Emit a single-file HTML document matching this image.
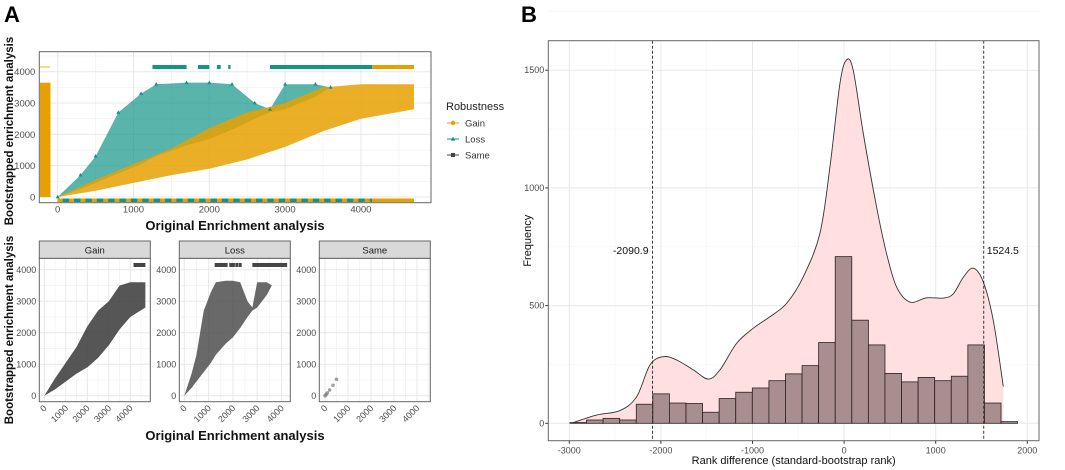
<!DOCTYPE html>
<html><head><meta charset="utf-8"><style>
html,body{margin:0;padding:0;background:#fff;}
svg{display:block;font-family:"Liberation Sans",Arial,sans-serif;}
</style></head><body>
<svg id="fig" width="1065" height="470" viewBox="0 0 1065 470" xmlns="http://www.w3.org/2000/svg"></svg>
<script>
// ---------- Panel B data ----------
const binStart = -2993;
const binWidth = 181;
const binCounts = [3,14,21,14,81,125,86,84,47,105,132,150,181,210,245,343,708,438,333,212,176,195,181,200,333,86,7];
const densX = [-2956,-2702,-2447,-2265,-2119,-1974,-1828,-1646,-1483,-1355,-1173,-991,-809,-627,-445,-264,-154,-45,28,100,210,355,464,574,719,901,1083,1192,1301,1411,1520,1629,1738];
const densY = [3,35,54,113,248,283,269,227,188,227,340,404,453,510,623,807,1091,1445,1544,1499,1230,918,720,578,515,533,532,550,620,659,600,436,156];
const vlines = [-2090.9, 1524.5];
const bXTicks = [-3000,-2000,-1000,0,1000,2000];
const bYTicks = [0,500,1000,1500];
// ---------- Panel A data ----------
const gainX = [0,500,1000,1500,2000,2500,3000,3500,4000,4700];
const gainLow = [0,200,450,700,900,1200,1600,2100,2500,2800];
const gainHigh = [0,550,1050,1550,2200,2700,3000,3500,3600,3600];
const lossX = [0,300,500,800,1100,1300,1700,2000,2300,2600,2800,3000,3400,3600];
const lossHigh = [0,700,1300,2700,3300,3600,3650,3650,3600,3000,2800,3600,3600,3500];
const lossLow = [0,250,450,750,1050,1300,1650,1850,2150,2500,2700,2800,3200,3500];
const lossTop = [[1250,1700],[1850,2000],[2100,2150],[2250,2280],[2800,4150]];
const gainTop = [[4150,4700]];
const sameX = [0,50,100,200,350,500];
const sameY = [0,40,90,180,330,520];
const aTicks = [0,1000,2000,3000,4000];

const NS="http://www.w3.org/2000/svg";
const svg=document.getElementById('fig');
function el(tag,attrs,parent){const e=document.createElementNS(NS,tag);for(const k in attrs)e.setAttribute(k,attrs[k]);(parent||svg).appendChild(e);return e;}
function txt(s,attrs,parent){const e=el('text',attrs,parent);e.textContent=s;return e;}

let t=txt('A',{x:4,y:22,'font-size':22,'font-weight':'bold'});

t=txt('B',{x:521,y:22,'font-size':22,'font-weight':'bold'});


// ================= Panel B =================
const B={l:548.3,t:40.7,r:1039,b:440.7};
const bx=v=>844.1+v*0.0916;
const by=v=>423.3-v*(117.7/500);
const gB=el('g',{});

for(let v=-2500;v<=2000;v+=1000){el('line',{x1:bx(v),x2:bx(v),y1:B.t,y2:B.b,stroke:'#f4f4f4','stroke-width':0.7},gB);}
for(let v=250;v<=1750;v+=500){el('line',{x1:B.l,x2:B.r,y1:by(v),y2:by(v),stroke:'#f4f4f4','stroke-width':0.7},gB);}
bXTicks.forEach(v=>{el('line',{x1:bx(v),x2:bx(v),y1:B.t,y2:B.b,stroke:'#e8e8e8','stroke-width':1},gB);
  const l=txt(String(v),{x:bx(v),y:B.b+13,'font-size':9,fill:'#4d4d4d','text-anchor':'middle'},gB);
  
  el('line',{x1:bx(v),x2:bx(v),y1:B.b,y2:B.b+3,stroke:'#333'},gB);});
bYTicks.forEach(v=>{el('line',{x1:B.l,x2:B.r,y1:by(v),y2:by(v),stroke:'#e8e8e8','stroke-width':1},gB);
  const l=txt(String(v),{x:B.l-4,y:by(v)+3,'font-size':9,fill:'#4d4d4d','text-anchor':'end'},gB);
  
  el('line',{x1:B.l-3,x2:B.l,y1:by(v),y2:by(v),stroke:'#333'},gB);});
function smooth(pts){let d=`M${pts[0][0]},${pts[0][1]}`;for(let i=0;i<pts.length-1;i++){const p0=pts[i-1]||pts[i],p1=pts[i],p2=pts[i+1],p3=pts[i+2]||p2;
 const c1=[p1[0]+(p2[0]-p0[0])/6,p1[1]+(p2[1]-p0[1])/6],c2=[p2[0]-(p3[0]-p1[0])/6,p2[1]-(p3[1]-p1[1])/6];
 d+=` C${c1[0]},${c1[1]} ${c2[0]},${c2[1]} ${p2[0]},${p2[1]}`;}return d;}
const dpts=densX.map((x,i)=>[bx(x),by(densY[i])]);
const dline=smooth(dpts);
let p=el('path',{d:dline+` L${bx(densX[densX.length-1])},${by(0)} L${bx(densX[0])},${by(0)} Z`,fill:'#ffdfdf',stroke:'none'},gB);

binCounts.forEach((c,i)=>{const x0=bx(binStart+i*binWidth),x1=bx(binStart+(i+1)*binWidth);
 const r=el('rect',{x:x0,y:by(c),width:x1-x0,height:by(0)-by(c),fill:'#a88e8e',stroke:'#2b2020','stroke-width':0.8},gB);
 });
p=el('path',{d:dline+` L${bx(densX[densX.length-1])},${by(densY[densY.length-1])}`,fill:'none',stroke:'#333','stroke-width':0.9},gB);

vlines.forEach((v,i)=>{const ln=el('line',{x1:bx(v),x2:bx(v),y1:B.t,y2:B.b,stroke:'#222','stroke-width':0.9,'stroke-dasharray':'3,2'},gB);
 
 const l=txt(String(v),{x:i===0?bx(v)-4:bx(v)+3,y:254,'font-size':10.5,fill:'#111','text-anchor':i===0?'end':'start'},gB);
 });
el('rect',{x:B.l,y:B.t,width:B.r-B.l,height:B.b-B.t,fill:'none',stroke:'#666','stroke-width':1},gB);
t=txt('Rank difference (standard-bootstrap rank)',{x:(B.l+B.r)/2,y:464,'font-size':11,fill:'#111','text-anchor':'middle'},gB);

t=txt('Frequency',{x:0,y:0,'font-size':11,fill:'#111','text-anchor':'middle',transform:`translate(531,${(B.t+B.b)/2}) rotate(-90)`},gB);


// ================= Panel A top =================
const A={l:39.3,t:51.7,r:431,b:202.7};
const ax=v=>57.7+v*0.0758;
const ay=v=>197-v*(125.3/4000);
const gA=el('g',{});

for(let v=500;v<=4500;v+=1000){el('line',{x1:ax(v),x2:ax(v),y1:A.t,y2:A.b,stroke:'#f4f4f4'},gA);el('line',{x1:A.l,x2:A.r,y1:ay(v),y2:ay(v),stroke:'#f4f4f4'},gA);}
aTicks.forEach(v=>{el('line',{x1:ax(v),x2:ax(v),y1:A.t,y2:A.b,stroke:'#e8e8e8'},gA);el('line',{x1:A.l,x2:A.r,y1:ay(v),y2:ay(v),stroke:'#e8e8e8'},gA);
 let l=txt(String(v),{x:ax(v),y:A.b+10,'font-size':9.5,fill:'#4d4d4d','text-anchor':'middle'},gA);
 l=txt(String(v),{x:A.l-4,y:ay(v)+3.5,'font-size':9.5,fill:'#4d4d4d','text-anchor':'end'},gA);});
function env(xs,lo,hi,fx,fy){let d='M'+xs.map((x,i)=>fx(x)+','+fy(hi[i])).join(' L');d+=' L'+xs.slice().reverse().map((x,i)=>fx(x)+','+fy(lo[lo.length-1-i])).join(' L')+' Z';return d;}
p=el('path',{d:env(lossX,lossLow,lossHigh,ax,ay),fill:'#139487',opacity:0.7},gA);
p=el('path',{d:env(gainX,gainLow,gainHigh,ax,ay),fill:'#e6a100',opacity:0.85},gA);
lossX.forEach((x,i)=>{const m=el('path',{d:`M${ax(x)},${ay(lossHigh[i])-2.2} l2,3.6 l-4,0 Z`,fill:'#139487'},gA);});
lossTop.forEach(s=>{const r=el('rect',{x:ax(s[0]),y:ay(4150)-2,width:ax(s[1])-ax(s[0]),height:4,fill:'#139487'},gA);});
gainTop.forEach(s=>{const r=el('rect',{x:ax(s[0]),y:ay(4150)-2,width:ax(s[1])-ax(s[0]),height:4,fill:'#e6a100'},gA);});
let r=el('rect',{x:40,y:ay(3650),width:10.5,height:ay(0)-ay(3650),fill:'#e6a100'},gA);
el('line',{x1:40,x2:50,y1:ay(4150),y2:ay(4150),stroke:'#e6c000','stroke-width':1},gA);
r=el('rect',{x:ax(0),y:198.5,width:ax(4150)-ax(0),height:3.5,fill:'#139487'},gA);
for(let v=0;v<4150;v+=150){el('rect',{x:ax(v),y:198.5,width:5,height:3.5,fill:'#e6a100'},gA);}
r=el('rect',{x:ax(4150),y:198.5,width:ax(4700)-ax(4150),height:3.5,fill:'#e6a100'},gA);
el('rect',{x:A.l,y:A.t,width:A.r-A.l,height:A.b-A.t,fill:'none',stroke:'#666'},gA);
t=txt('Original Enrichment analysis',{x:235,y:230,'font-size':13,'font-weight':'bold',fill:'#111','text-anchor':'middle'},gA);
t=txt('Bootstrapped enrichment analysis',{x:0,y:0,'font-size':11.5,'font-weight':'bold',fill:'#111','text-anchor':'middle',transform:'translate(13,131) rotate(-90)'},gA);
const gL=el('g',{});
txt('Robustness',{x:446,y:110,'font-size':11,fill:'#222'},gL);
[['Gain','#e6a100','c'],['Loss','#139487','t'],['Same','#444','s']].forEach((e,i)=>{const y=123+i*16;
 const g=el('g',{},gL);
 el('line',{x1:447,x2:459,y1:y,y2:y,stroke:e[1],'stroke-width':1},g);
 if(e[2]==='c')el('circle',{cx:453,cy:y,r:2.2,fill:e[1]},g);
 else if(e[2]==='t')el('path',{d:`M453,${y-2.4} l2.2,4 l-4.4,0Z`,fill:e[1]},g);
 else el('rect',{x:451,y:y-2,width:4,height:4,fill:e[1]},g);
 txt(e[0],{x:465,y:y+3.5,'font-size':9.5,fill:'#333'},g);});

// ================= Facets =================
const fY=v=>395.7-v*(126/4000);
const facets=[{name:'Gain',l:39.3,r:150.3,x0:44.3,k:0.0215},{name:'Loss',l:179.3,r:290.3,x0:184.3,k:0.0243},{name:'Same',l:319.3,r:430.3,x0:325,k:0.0230}];
facets.forEach(f=>{const g=el('g',{});
 const fx=v=>f.x0+v*f.k;const top=258.3,bot=401.7;
 for(let v=500;v<=4500;v+=1000){if(fx(v)<f.r)el('line',{x1:fx(v),x2:fx(v),y1:top,y2:bot,stroke:'#f4f4f4'},g);el('line',{x1:f.l,x2:f.r,y1:fY(v),y2:fY(v),stroke:'#f4f4f4'},g);}
 aTicks.forEach(v=>{el('line',{x1:fx(v),x2:fx(v),y1:top,y2:bot,stroke:'#e8e8e8'},g);el('line',{x1:f.l,x2:f.r,y1:fY(v),y2:fY(v),stroke:'#e8e8e8'},g);
  let l=txt(String(v),{x:0,y:0,'font-size':9,fill:'#4d4d4d','text-anchor':'end',transform:`translate(${fx(v)+3},${bot+7}) rotate(-45)`},g);
  l=txt(String(v),{x:f.l-3,y:fY(v)+3.5,'font-size':9,fill:'#4d4d4d','text-anchor':'end'},g);});
 if(f.name==='Gain'){p=el('path',{d:env(gainX,gainLow,gainHigh,fx,fY),fill:'#444',opacity:0.9},g);
  gainTop.forEach(s=>{const rr=el('rect',{x:fx(s[0]),y:fY(4150)-2,width:fx(s[1])-fx(s[0]),height:4,fill:'#444'},g);});}
 if(f.name==='Loss'){p=el('path',{d:env(lossX,lossLow,lossHigh,fx,fY),fill:'#444',opacity:0.8},g);
  lossTop.forEach(s=>{const rr=el('rect',{x:fx(s[0]),y:fY(4150)-2,width:fx(s[1])-fx(s[0])+2,height:4,fill:'#444'},g);});}
 if(f.name==='Same'){sameX.forEach((x,i)=>{const c=el('circle',{cx:fx(x),cy:fY(sameY[i]),r:1.8,fill:'#777',opacity:0.7},g);});}
 el('rect',{x:f.l,y:top,width:f.r-f.l,height:bot-top,fill:'none',stroke:'#666'},g);
 const s=el('rect',{x:f.l,y:241,width:f.r-f.l,height:17.3,fill:'#d9d9d9',stroke:'#666'},g);
 const st=txt(f.name,{x:(f.l+f.r)/2,y:253.5,'font-size':9.5,fill:'#1a1a1a','text-anchor':'middle'},g);});
t=txt('Original Enrichment analysis',{x:235,y:440,'font-size':13,'font-weight':'bold',fill:'#111','text-anchor':'middle'});
t=txt('Bootstrapped enrichment analysis',{x:0,y:0,'font-size':11.5,'font-weight':'bold',fill:'#111','text-anchor':'middle',transform:'translate(13,330) rotate(-90)'});
</script>
</body></html>
